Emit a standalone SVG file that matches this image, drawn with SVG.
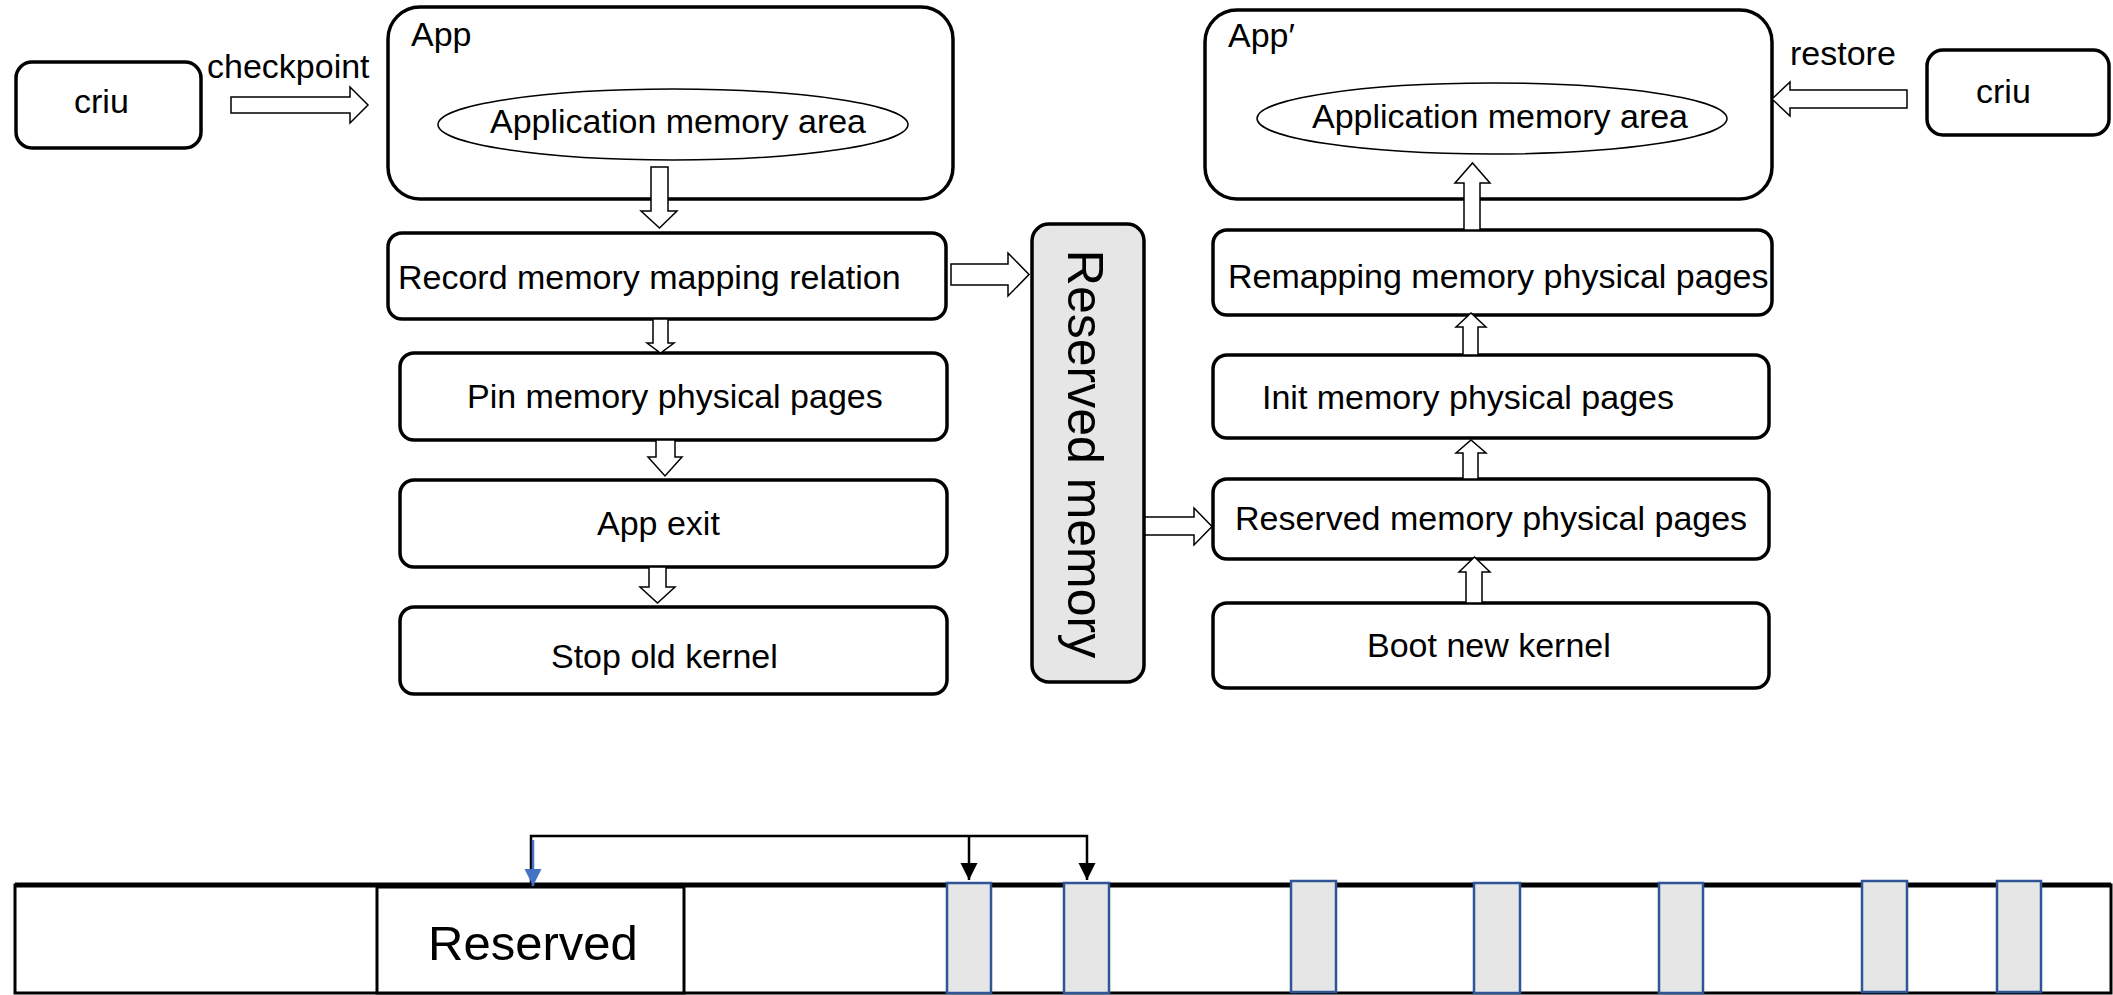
<svg xmlns="http://www.w3.org/2000/svg" width="2113" height="995" viewBox="0 0 2113 995">
  <defs>
    <style>
      .box { fill: #ffffff; stroke: #000000; stroke-width: 3.5; }
      .res { fill: #e6e6e6; stroke: #000000; stroke-width: 3.5; }
      .oval { fill: #ffffff; stroke: #000000; stroke-width: 1.5; }
      .blk { fill: #ffffff; stroke: #000000; stroke-width: 1.5; stroke-linejoin: miter; }
      .lbl { font-family: "Liberation Sans", Arial, sans-serif; font-size: 34px; fill: #000000; }
      .big { font-family: "Liberation Sans", Arial, sans-serif; font-size: 50px; fill: #000000; }
      .bar { fill: #ffffff; stroke: #000000; stroke-width: 3; }
      .page { fill: #e6e6e6; stroke: #2f5597; stroke-width: 2.5; }
      .link { fill: none; stroke: #000000; stroke-width: 2.5; }
    </style>
    <marker id="headBlack" viewBox="0 0 10 10" refX="10" refY="5" markerWidth="7" markerHeight="7" orient="auto" markerUnits="strokeWidth">
      <path d="M0,0 L10,5 L0,10 Z" fill="#000000"/>
    </marker>
    <marker id="headBlue" viewBox="0 0 10 10" refX="10" refY="5" markerWidth="7" markerHeight="7" orient="auto" markerUnits="strokeWidth">
      <path d="M0,0 L10,5 L0,10 Z" fill="#4472c4"/>
    </marker>
  </defs>

  <rect width="2113" height="995" fill="#ffffff"/>

  <!-- checkpoint side -->
  <g id="criu-checkpoint">
    <rect class="box" x="16" y="62" width="185" height="86" rx="16"/>
    <text class="lbl" x="74" y="113">criu</text>
  </g>
  <g id="app">
    <rect class="box" x="388" y="7" width="565" height="192" rx="32"/>
    <text class="lbl" x="411" y="46">App</text>
  </g>
  <g id="app-memory">
    <ellipse class="oval" cx="673" cy="124.5" rx="235" ry="35.5"/>
    <text class="lbl" x="678" y="133" text-anchor="middle">Application memory area</text>
  </g>
  <g id="record-mapping">
    <rect class="box" x="388" y="233" width="558" height="86" rx="14"/>
    <text class="lbl" x="398" y="289">Record memory mapping relation</text>
  </g>
  <g id="pin-pages">
    <rect class="box" x="400" y="353" width="547" height="87" rx="14"/>
    <text class="lbl" x="467" y="408">Pin memory physical pages</text>
  </g>
  <g id="app-exit">
    <rect class="box" x="400" y="480" width="547" height="87" rx="14"/>
    <text class="lbl" x="597" y="535">App exit</text>
  </g>
  <g id="stop-kernel">
    <rect class="box" x="400" y="607" width="547" height="87" rx="14"/>
    <text class="lbl" x="551" y="668">Stop old kernel</text>
  </g>

  <!-- reserved memory column -->
  <g id="reserved-memory">
    <rect class="res" x="1032" y="224" width="112" height="458" rx="17"/>
    <text class="big" transform="translate(1068,454) rotate(90)" text-anchor="middle">Reserved memory</text>
  </g>

  <!-- restore side -->
  <g id="app-restored">
    <rect class="box" x="1205" y="10" width="567" height="189" rx="32"/>
    <text class="lbl" x="1228" y="47">App′</text>
  </g>
  <g id="app-memory-restored">
    <ellipse class="oval" cx="1492" cy="118.5" rx="235" ry="35.5"/>
    <text class="lbl" x="1500" y="128" text-anchor="middle">Application memory area</text>
  </g>
  <g id="criu-restore">
    <rect class="box" x="1927" y="50" width="182" height="85" rx="16"/>
    <text class="lbl" x="1976" y="103">criu</text>
  </g>
  <g id="remap-pages">
    <rect class="box" x="1213" y="230" width="559" height="85" rx="14"/>
    <text class="lbl" x="1228" y="288">Remapping memory physical pages</text>
  </g>
  <g id="init-pages">
    <rect class="box" x="1213" y="355" width="556" height="83" rx="14"/>
    <text class="lbl" x="1262" y="409">Init memory physical pages</text>
  </g>
  <g id="reserved-pages">
    <rect class="box" x="1213" y="479" width="556" height="80" rx="14"/>
    <text class="lbl" x="1235" y="530">Reserved memory physical pages</text>
  </g>
  <g id="boot-kernel">
    <rect class="box" x="1213" y="603" width="556" height="85" rx="14"/>
    <text class="lbl" x="1367" y="657">Boot new kernel</text>
  </g>

  <!-- physical memory strip -->
  <g id="memory-strip">
    <rect class="bar" x="15" y="885" width="2096" height="108"/>
    <line x1="15" y1="885" x2="2111" y2="885" stroke="#000000" stroke-width="5"/>
  </g>
  <g id="reserved-region">
    <rect class="bar" x="377" y="887" width="307" height="106"/>
    <text class="big" x="428" y="960" style="font-size:49px">Reserved</text>
  </g>
  <g id="pinned-pages">
    <rect class="page" x="947" y="883" width="44" height="110"/>
    <rect class="page" x="1064" y="883" width="45" height="110"/>
    <rect class="page" x="1291" y="881" width="45" height="111"/>
    <rect class="page" x="1474" y="883" width="46" height="110"/>
    <rect class="page" x="1659" y="883" width="44" height="110"/>
    <rect class="page" x="1862" y="881" width="45" height="111"/>
    <rect class="page" x="1997" y="881" width="44" height="111"/>
  </g>

  <!-- connectors -->
  <g id="connectors">
    <!-- hollow block arrows, checkpoint flow -->
    <path class="blk" d="M231,97 H350 V87 L368,105 L350,123 V113 H231 Z"/>
    <text class="lbl" x="207" y="78">checkpoint</text>
    <path class="blk" d="M651,167 H668 V211 H677 L659.5,228 L641,211 H651 Z"/>
    <path class="blk" d="M653,319 H668 V343 H674 L660.5,353 L647,343 H653 Z"/>
    <path class="blk" d="M656,440 H675 V457 H682 L665,476 L648,457 H656 Z"/>
    <path class="blk" d="M649,567 H666 V587 H675 L657.5,603 L640,587 H649 Z"/>
    <path class="blk" d="M951,264 H1008 V253 L1029,274.5 L1008,296 V285 H951 Z"/>
    <path class="blk" d="M1145,517 H1194 V508 L1212,526.5 L1194,545 V535 H1145 Z"/>
    <!-- hollow block arrows, restore flow -->
    <path class="blk" d="M1466,603 V572 H1459 L1474.5,557 L1490,572 H1482 V603 Z"/>
    <path class="blk" d="M1463,479 V453 H1456 L1471,440 L1486,453 H1478 V479 Z"/>
    <path class="blk" d="M1463,355 V327 H1456 L1471,313 L1486,327 H1478 V355 Z"/>
    <path class="blk" d="M1464,230 V183 H1455 L1472.5,163 L1490,183 H1480 V230 Z"/>
    <path class="blk" d="M1907,90 H1790 V82 L1772,99 L1790,116 V108 H1907 Z"/>
    <text class="lbl" x="1790" y="65">restore</text>
    <!-- page mapping links on the strip -->
    <path class="link" d="M531,886 V836 H1087 V880" marker-end="url(#headBlack)"/>
    <path class="link" d="M969,836 V880" marker-end="url(#headBlack)"/>
    <path d="M533,840 V886" fill="none" stroke="#4472c4" stroke-width="2.5" marker-end="url(#headBlue)"/>
  </g>
</svg>
